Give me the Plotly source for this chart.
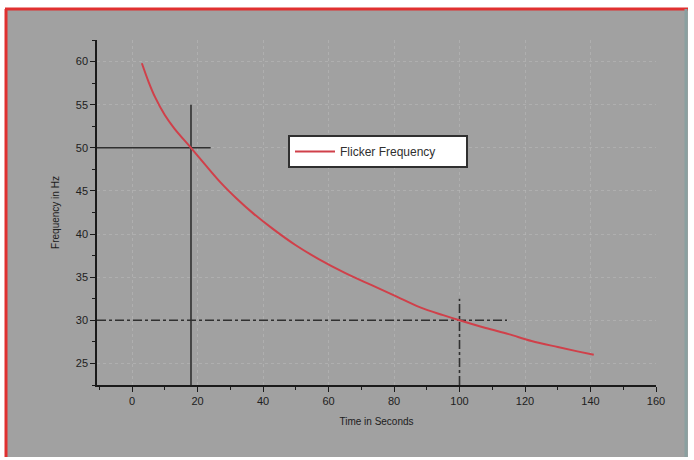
import plotly.graph_objects as go

# Data
time_s = [3, 5, 7, 10, 13, 18, 22, 27, 32, 37, 43, 50, 57, 65, 73, 80, 88, 95, 100, 108, 115, 122, 130, 136, 141]
freq_hz = [59.8, 57.7, 55.9, 53.8, 52.2, 50.0, 48.2, 46.0, 44.1, 42.4, 40.6, 38.7, 37.1, 35.5, 34.1, 32.9, 31.5, 30.6, 30.0, 29.1, 28.4, 27.6, 26.9, 26.4, 26.0]

# Guide (crosshair) lines
guide_t = [18, 100]
guide_f = [50, 30]
guide_t_end = [24, 114.5]
guide_f_end = [55, 32.5]
guide_dash = ["solid", "dashdot"]

x_tick_vals = [0, 20, 40, 60, 80, 100, 120, 140, 160]
y_tick_vals = [25, 30, 35, 40, 45, 50, 55, 60]
x_range = [-10.7, 160]
y_range = [22.5, 62.5]

series_name = "Flicker Frequency"
x_title = "Time in Seconds"
y_title = "Frequency in Hz"

BG = "#a1a1a1"
AX = "#1a1a1a"

fig = go.Figure()

for t, f, te, fe, d in zip(guide_t, guide_f, guide_t_end, guide_f_end, guide_dash):
    fig.add_trace(go.Scatter(x=[t, t], y=[y_range[0], fe], mode="lines",
                             line=dict(color="#303030", width=1.6, dash=d),
                             showlegend=False, hoverinfo="skip"))
    fig.add_trace(go.Scatter(x=[x_range[0], te], y=[f, f], mode="lines",
                             line=dict(color="#303030", width=1.6, dash=d),
                             showlegend=False, hoverinfo="skip"))

fig.add_trace(go.Scatter(x=time_s, y=freq_hz, mode="lines", name=series_name,
                         line=dict(color="#d0404a", width=2, shape="spline", smoothing=1.0)))

# page frame (pixel -> paper conversion)
L, R, T, B = 97, 656, 40, 385
W, H = 694, 460
def px(x):
    return (x - L) / (R - L)
def py(y):
    return (B - y) / (B - T)

shapes = [
    dict(type="rect", xref="paper", yref="paper", x0=px(5), x1=px(688), y0=py(457), y1=py(9),
         fillcolor=BG, line=dict(width=0), layer="below"),
    dict(type="line", xref="paper", yref="paper", x0=px(6), x1=px(6), y0=py(457), y1=py(9),
         line=dict(color="#e03030", width=3)),
    dict(type="line", xref="paper", yref="paper", x0=px(5), x1=px(688), y0=py(9), y1=py(9),
         line=dict(color="#e03030", width=3)),
    dict(type="line", xref="paper", yref="paper", x0=px(686), x1=px(686), y0=py(457), y1=py(9),
         line=dict(color="#8aa0a0", width=3)),
]

fig.update_layout(
    width=W, height=H,
    margin=dict(l=L, r=W - R, t=T, b=H - B),
    paper_bgcolor="white",
    plot_bgcolor=BG,
    font=dict(family="Liberation Sans, Arial, sans-serif", size=11, color="#202020"),
    shapes=shapes,
    legend=dict(x=px(288), y=py(135), xanchor="left", yanchor="top",
                orientation="h", itemwidth=40,
                bgcolor="white", bordercolor="#303030", borderwidth=2,
                font=dict(size=12, color="#303030"),
                entrywidth=121, entrywidthmode="pixels"),
    showlegend=True,
)

fig.update_xaxes(range=x_range, tickvals=x_tick_vals, showline=True, linecolor=AX, linewidth=1.5,
                 ticks="outside", ticklen=5, tickwidth=1.2, tickcolor=AX,
                 minor=dict(ticks="outside", ticklen=3, dtick=10, tickcolor=AX, showgrid=False),
                 showgrid=True, gridcolor="rgba(185,185,185,0.6)", griddash="dot", zeroline=False,
                 mirror=False,
                 title=dict(text=x_title, font=dict(size=10, color="#202020"), standoff=12))
fig.update_yaxes(range=y_range, tickvals=y_tick_vals, showline=True, linecolor=AX, linewidth=1.5,
                 ticks="outside", ticklen=5, tickwidth=1.2, tickcolor=AX,
                 minor=dict(ticks="outside", ticklen=3, dtick=2.5, tickcolor=AX, showgrid=False),
                 showgrid=True, gridcolor="rgba(185,185,185,0.6)", griddash="dot", zeroline=False,
                 mirror=False,
                 title=dict(text=y_title, font=dict(size=10, color="#202020"), standoff=14))

fig.write_html("out.html")
